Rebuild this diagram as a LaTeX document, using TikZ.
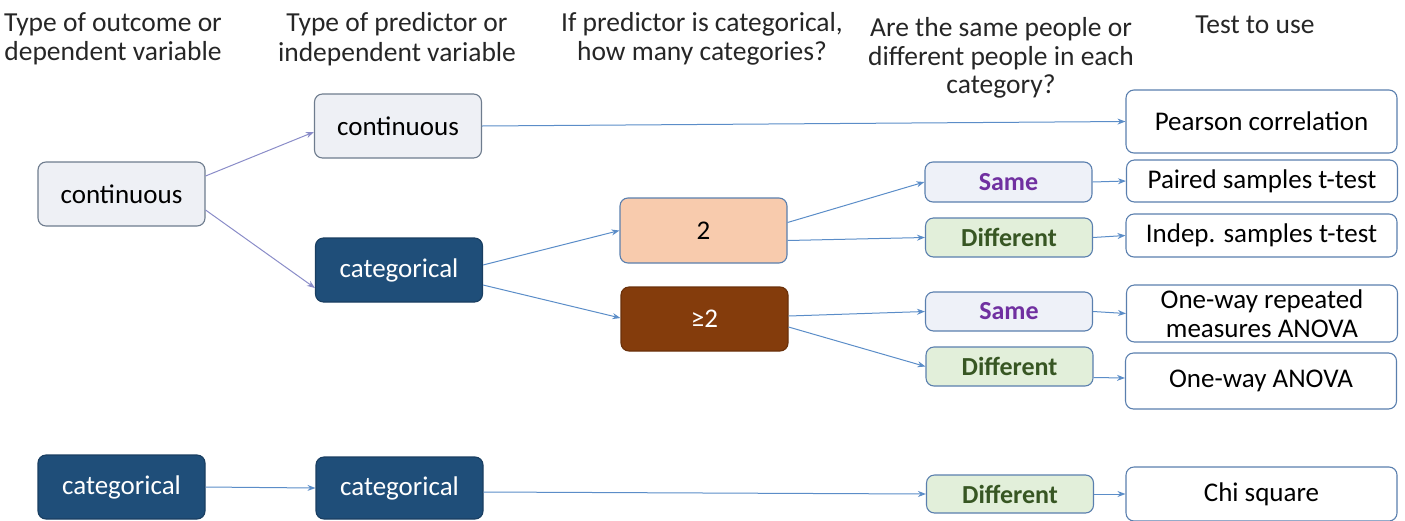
\documentclass[tikz,border=0pt]{standalone}
\usepackage{fontspec}
\setmainfont{Carlito}
\usetikzlibrary{arrows.meta}
\definecolor{lightfill}{HTML}{EEF0F5}
\definecolor{lightdraw}{HTML}{6E7C8E}
\definecolor{darkblue}{HTML}{1F4E79}
\definecolor{peach}{HTML}{F8CBAD}
\definecolor{brown}{HTML}{843C0C}
\definecolor{samefill}{HTML}{EEF1F8}
\definecolor{purpletext}{HTML}{7030A0}
\definecolor{difffill}{HTML}{E2EFDA}
\definecolor{greentext}{HTML}{375623}
\definecolor{boxblue}{HTML}{5A7FAE}
\definecolor{arrowblue}{HTML}{5B8DC8}
\definecolor{arrowpurple}{HTML}{8A8CC8}
\tikzset{
  box/.style={rectangle, rounded corners=8pt, line width=1.1pt, minimum width=167pt, minimum height=64pt, inner sep=2pt, font=\fontsize{27}{29}\selectfont},
  lightbox/.style={box, fill=lightfill, draw=lightdraw},
  darkbox/.style={box, fill=darkblue, draw=darkblue!80!black, text=white},
  twobox/.style={box, fill=peach, draw=boxblue},
  manybox/.style={box, fill=brown, draw=brown!80!black, text=white},
  samebox/.style={box, minimum height=40pt, fill=samefill, draw=boxblue, text=purpletext, font=\fontsize{26}{29}\selectfont\bfseries},
  diffbox/.style={box, minimum height=40pt, fill=difffill, draw=boxblue, text=greentext, font=\fontsize{26}{29}\selectfont\bfseries},
  testbox/.style={box, minimum width=271pt, fill=white, draw=boxblue, align=center, font=\fontsize{27}{29}\selectfont},
  header/.style={align=center, font=\fontsize{27.5}{29.5}\selectfont, text=black!85},
  conn/.style={draw=arrowblue, line width=1pt, -{Stealth[length=8pt,width=6pt]}},
  connp/.style={conn, draw=arrowpurple},
}
\begin{document}
\begin{tikzpicture}[x=1pt,y=-1pt]
\useasboundingbox (0,0) rectangle (1405,520);
% headers
\node[header] (h1) at (113,39) {Type of outcome or\\dependent variable};
\node[header] (h2) at (397,39) {Type of predictor or\\independent variable};
\node[header] (h3) at (702,39) {If predictor is categorical,\\how many categories?};
\node[header, font=\fontsize{27.5}{28.5}\selectfont] (h4) at (1001,58) {Are the same people or\\different people in each\\category?};
\node[header] (h5) at (1255,25) {Test to use};
% column 1
\node[lightbox] (c1) at (121.5,194) {continuous};
\node[darkbox] (k1) at (121.5,487) {categorical};
% column 2
\node[lightbox] (c2) at (398,126) {continuous};
\node[darkbox] (k2) at (399,270) {categorical};
\node[darkbox, minimum height=62pt] (k3) at (399.5,488) {categorical};
% column 3
\node[twobox, minimum height=65pt] (n2) at (703.5,230.5) {2};
\node[manybox] (n3) at (704.5,319) {≥2};
% column 4
\node[samebox] (s1) at (1008.5,182) {Same};
\node[diffbox, minimum height=39pt] (d1) at (1009,237.5) {Different};
\node[samebox, minimum height=39pt] (s2) at (1009,311.5) {Same};
\node[diffbox, minimum height=39pt] (d2) at (1009.5,366.5) {Different};
\node[diffbox, minimum height=38pt] (d3) at (1010,494) {Different};
% column 5
\node[testbox, minimum height=63pt] (t1) at (1261.5,121.5) {Pearson correlation};
\node[testbox, minimum height=42pt] (t2) at (1262,181) {Paired samples t-test};
\node[testbox, minimum height=43pt] (t3) at (1261.5,235.5) {Indep. samples t-test};
\node[testbox, minimum height=57pt] (t4) at (1262,313.5) {One-way repeated\\measures ANOVA};
\node[testbox, minimum height=56pt] (t5) at (1261,381) {One-way ANOVA};
\node[testbox, minimum height=54pt] (t6) at (1261.5,494) {Chi square};
% connectors
\draw[connp] ([yshift=18pt]c1.east) -- ([yshift=-6pt]c2.west);
\draw[connp] ([yshift=-16pt]c1.east) -- ([yshift=-18pt]k2.west);
\draw[conn] (c2.east) -- (t1.west);
\draw[conn] ([yshift=5pt]k2.east) -- (n2.west);
\draw[conn] ([yshift=-15pt]k2.east) -- ([yshift=1pt]n3.west);
\draw[conn] ([yshift=8pt]n2.east) -- (s1.west);
\draw[conn] ([yshift=-10pt]n2.east) -- (d1.west);
\draw[conn] ([yshift=3pt]n3.east) -- (s2.west);
\draw[conn] ([yshift=-8pt]n3.east) -- (d2.west);
\draw[conn] (s1.east) -- (t2.west);
\draw[conn] (d1.east) -- (t3.west);
\draw[conn] (s2.east) -- (t4.west);
\draw[conn] ([yshift=-11pt]d2.east) -- ([yshift=3pt]t5.west);
\draw[conn] (k1.east) -- (k3.west);
\draw[conn] ([yshift=-4pt]k3.east) -- (d3.west);
\draw[conn] (d3.east) -- (t6.west);
\end{tikzpicture}
\end{document}
